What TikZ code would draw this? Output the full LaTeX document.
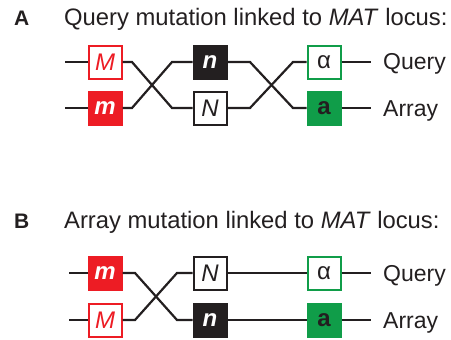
\documentclass[tikz,border=0pt]{standalone}
\usepackage{fontspec}
\setmainfont{Liberation Sans}
\definecolor{ink}{HTML}{231F20}
\definecolor{matred}{HTML}{ED1C24}
\definecolor{matgreen}{HTML}{109D49}
\begin{document}
\begin{tikzpicture}[x=1pt,y=-1pt,
  wire/.style={draw=ink,line width=2.2pt},
  locus/.style={minimum size=33pt,inner sep=0pt,line width=2pt,
    font=\fontsize{24}{26}\selectfont},
  redopen/.style={locus,draw=matred,fill=white,text=matred},
  redfull/.style={locus,draw=matred,fill=matred,text=white},
  blkopen/.style={locus,draw=ink,fill=white,text=ink},
  blkfull/.style={locus,draw=ink,fill=ink,text=white},
  grnopen/.style={locus,draw=matgreen,fill=white,text=ink},
  grnfull/.style={locus,draw=matgreen,fill=matgreen,text=ink},
  panel/.style={anchor=base west,inner sep=0pt,text=ink,font=\fontsize{21}{24}\selectfont\bfseries},
  title/.style={anchor=base west,inner sep=0pt,text=ink,font=\fontsize{23.8}{28}\selectfont},
  strain/.style={anchor=base west,inner sep=0pt,text=ink,font=\fontsize{23}{28}\selectfont}]
\useasboundingbox (0,0) rectangle (451,340);

% ---- Panel A: query mutation linked to MAT ----
\node[panel] (pA) at (14,26) {A};
\node[title] (tA) at (64,26) {Query mutation linked to \textit{MAT} locus:};

\node[redopen] (aM) at (105,62) {\textit{M}};
\node[redfull] (am) at (105,108) {\textbf{\textit{m}}};
\node[blkfull] (an) at (210,62) {\textbf{\textit{n}}};
\node[blkopen] (aN) at (210,108) {\textit{N}};
\node[grnopen] (aal) at (324,62) {α};
\node[grnfull] (aa) at (324,108) {\textbf{a}};

\coordinate (aL1) at (65,62);
\coordinate (aL2) at (65,108);
\coordinate (aR1) at (371,62);
\coordinate (aR2) at (371,108);

\draw[wire] (aL1) -- (aM.west);
\draw[wire] (aL2) -- (am.west);
\draw[wire] (aM.east) -- (132,62) -- (172,108) -- (aN.west);
\draw[wire] (am.east) -- (132,108) -- (172,62) -- (an.west);
\draw[wire] (an.east) -- (250,62) -- (293,108) -- (aa.west);
\draw[wire] (aN.east) -- (250,108) -- (293,62) -- (aal.west);
\draw[wire] (aal.east) -- (aR1);
\draw[wire] (aa.east) -- (aR2);

\node[strain] (aQ) at (383,70) {Query};
\node[strain] (aA) at (383,116) {Array};

% ---- Panel B: array mutation linked to MAT ----
\node[panel] (pB) at (14,228) {B};
\node[title] (tB) at (64,228) {Array mutation linked to \textit{MAT} locus:};

\node[redfull] (bm) at (105,273) {\textbf{\textit{m}}};
\node[redopen] (bM) at (105,320) {\textit{M}};
\node[blkopen] (bN) at (210,273) {\textit{N}};
\node[blkfull] (bn) at (210,320) {\textbf{\textit{n}}};
\node[grnopen] (bal) at (324,273) {α};
\node[grnfull] (ba) at (324,320) {\textbf{a}};

\coordinate (bL1) at (69,273);
\coordinate (bL2) at (69,320);
\coordinate (bR1) at (371,273);
\coordinate (bR2) at (371,320);

\draw[wire] (bL1) -- (bm.west);
\draw[wire] (bL2) -- (bM.west);
\draw[wire] (bm.east) -- (135,273) -- (177,320) -- (bn.west);
\draw[wire] (bM.east) -- (135,320) -- (177,273) -- (bN.west);
\draw[wire] (bN.east) -- (bal.west);
\draw[wire] (bn.east) -- (ba.west);
\draw[wire] (bal.east) -- (bR1);
\draw[wire] (ba.east) -- (bR2);

\node[strain] (bQ) at (383,281) {Query};
\node[strain] (bA) at (383,328) {Array};
\end{tikzpicture}
\end{document}
